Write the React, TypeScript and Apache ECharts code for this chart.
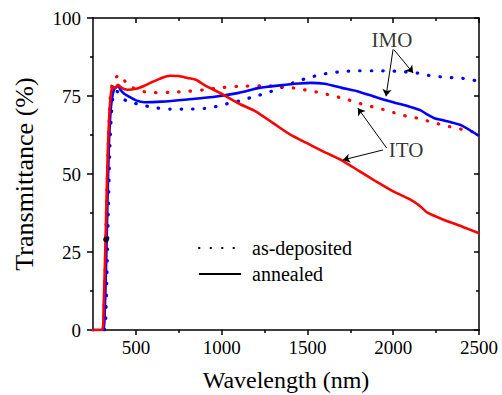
import React, { useEffect, useRef } from "react";
import * as echarts from "echarts";

// ITO annealed (red solid)
const itoAnnX = [250, 305, 312, 320, 328, 336, 345, 355, 365, 380, 395, 420, 450, 500, 550, 600, 650, 700, 750, 800, 850, 900, 1000, 1100, 1200, 1300, 1400, 1500, 1600, 1700, 1800, 1900, 2000, 2100, 2150, 2200, 2300, 2400, 2500];
const itoAnnY = [0, 0, 8, 22, 40, 57, 69, 76, 78, 77.6, 78.6, 77.5, 77, 77.3, 78.3, 79.6, 80.8, 81.5, 81.4, 80.8, 80.2, 78.5, 75.7, 72.6, 70, 66.3, 62.6, 59.8, 57, 54.4, 51, 47.6, 44.4, 41.8, 40, 37.6, 35.2, 33.2, 31];

// IMO annealed (blue solid)
const imoAnnX = [250, 310, 318, 326, 334, 342, 350, 360, 372, 385, 398, 410, 430, 460, 500, 550, 650, 800, 950, 1100, 1220, 1340, 1450, 1520, 1600, 1700, 1800, 1900, 2000, 2100, 2160, 2200, 2240, 2300, 2400, 2500];
const imoAnnY = [0, 0, 5, 20, 40, 58, 68, 74, 77, 77.8, 78.2, 77, 75.8, 74.8, 73.6, 73, 73.2, 73.9, 74.7, 76, 77.6, 78.4, 79, 79.2, 78.9, 77.6, 76.4, 74.6, 73, 71.5, 70.4, 69, 67.9, 67.1, 65.5, 62.2];

// ITO as-deposited (red dotted)
const itoDepX = [250, 305, 315, 323, 331, 340, 350, 362, 375, 405, 440, 470, 525, 600, 700, 800, 900, 1000, 1100, 1240, 1300, 1370, 1440, 1500, 1570, 1640, 1710, 1780, 1840, 1900, 1960, 2020, 2080, 2150, 2220, 2290, 2350, 2420, 2500];
const itoDepY = [0, 0, 8, 25, 45, 62, 74, 79, 80.5, 81.8, 79.5, 78, 76.6, 76.1, 76.2, 76.5, 77, 77.7, 78.1, 78.3, 78.2, 77.9, 77.4, 76.8, 76.1, 75.2, 74.2, 73.1, 72, 71.3, 70.4, 69.4, 68.5, 67.8, 66.7, 65.7, 64.9, 64.1, 63];

// IMO as-deposited (blue dotted)
const imoDepX = [250, 315, 325, 333, 340, 348, 356, 365, 378, 390, 410, 450, 530, 600, 700, 800, 900, 985, 1050, 1100, 1170, 1240, 1310, 1380, 1440, 1510, 1580, 1650, 1710, 1800, 1900, 2000, 2060, 2100, 2160, 2225, 2290, 2360, 2430, 2500];
const imoDepY = [0, 0, 5, 22, 40, 58, 68, 74, 76.5, 76.5, 74.8, 73.3, 72.2, 71.3, 70.8, 70.8, 71, 71.8, 72.8, 73.4, 74.5, 75.6, 76.9, 78.4, 79.7, 80.9, 81.9, 82.5, 82.9, 83.1, 83.1, 83, 82.8, 82.5, 82.2, 81.4, 81.1, 80.8, 80.5, 79.7];

// black marker on the absorption edge
const edgeMarker = [[326, 29]];

// axis ticks / labels
const xMajor = [500, 1000, 1500, 2000, 2500];
const xMinor = [750, 1250, 1750, 2250];
const xMin = 250;
const xMax = 2500;

// annotations (data coordinates)
const annotationTexts = [
  { name: "IMO", at: [1993, 92.8] },
  { name: "ITO", at: [2075, 57.7] },
];
const annotationArrows = [
  [[1999, 89.9], [1958, 74.9]],
  [[2003, 89.9], [2116, 82.4]],
  [[1962, 58.3], [1794, 71.1]],
  [[1940, 57.7], [1707, 54.5]],
];

const legendNames = ["as-deposited", "annealed"];

const zip = (xs: number[], ys: number[]) => xs.map((x, i) => [x, ys[i]]);

const FONT = "Liberation Serif";
const DOT = [0.5, 11];

export default function App() {
  const ref = useRef<HTMLDivElement>(null);
  useEffect(() => {
    if (!ref.current) return;
    const chart = echarts.init(ref.current, null, { renderer: "svg" });
    const axisLine = { show: true, lineStyle: { color: "#000", width: 1.5 } };
    const baseX = { type: "value", min: xMin, max: xMax, splitLine: { show: false } };
    const baseY = { type: "value", min: 0, max: 100, interval: 25, splitLine: { show: false } };
    chart.setOption({
      animation: false,
      backgroundColor: "#fff",
      textStyle: { fontFamily: FONT },
      grid: { left: 93, right: 23, top: 18, bottom: 65, containLabel: false, outerBoundsMode: "none" },
      xAxis: [
        {
          ...baseX,
          position: "bottom",
          axisLine,
          axisTick: { show: true, inside: false, length: 5, customValues: xMajor, lineStyle: { color: "#000", width: 1.5 } },
          axisLabel: {
            show: true,
            customValues: xMajor,
            margin: 8,
            color: "#000",
            fontSize: 19,
            fontFamily: FONT,
            formatter: (v: number) => String(v),
          },
          name: "Wavelength (nm)",
          nameLocation: "middle",
          nameGap: 38,
          nameTextStyle: { color: "#000", fontSize: 24, fontFamily: FONT },
        },
        {
          ...baseX,
          position: "bottom",
          axisLine: { show: false },
          axisTick: { show: true, inside: false, length: 3, customValues: xMinor, lineStyle: { color: "#000", width: 1.5 } },
          axisLabel: { show: false },
        },
        {
          ...baseX,
          position: "top",
          axisLine,
          axisTick: { show: true, inside: true, length: 5, customValues: xMajor, lineStyle: { color: "#000", width: 1.5 } },
          axisLabel: { show: false },
        },
        {
          ...baseX,
          position: "top",
          axisLine: { show: false },
          axisTick: { show: true, inside: true, length: 3, customValues: xMinor, lineStyle: { color: "#000", width: 1.5 } },
          axisLabel: { show: false },
        },
      ],
      yAxis: [
        {
          ...baseY,
          position: "left",
          axisLine,
          axisTick: { show: true, inside: false, length: 6, lineStyle: { color: "#000", width: 1.5 } },
          minorTick: { show: true, splitNumber: 2, length: 3, lineStyle: { color: "#000", width: 1.5 } },
          axisLabel: { show: true, margin: 12, color: "#000", fontSize: 19, fontFamily: FONT },
          name: "Transmittance (%)",
          nameLocation: "middle",
          nameGap: 56,
          nameTextStyle: { color: "#000", fontSize: 26, fontFamily: FONT },
        },
        {
          ...baseY,
          position: "right",
          axisLine,
          axisTick: { show: true, inside: true, length: 5, lineStyle: { color: "#000", width: 1.5 } },
          minorTick: { show: true, splitNumber: 2, length: 3, lineStyle: { color: "#000", width: 1.5 } },
          axisLabel: { show: false },
        },
      ],
      legend: {
        data: legendNames,
        orient: "vertical",
        left: 193,
        top: 233,
        itemWidth: 42,
        itemHeight: 14,
        itemGap: 6,
        itemStyle: { opacity: 0 },
        textStyle: { color: "#000", fontSize: 20, fontFamily: FONT, lineHeight: 20, padding: [0, 0, 0, 6] },
      },
      series: [
        {
          name: "IMO as-deposited",
          type: "line",
          data: zip(imoDepX, imoDepY),
          showSymbol: false,
          symbol: "none",
          smooth: 0.2,
          lineStyle: { color: "#0000ff", width: 3.2, type: DOT, cap: "round" },
          z: 2,
        },
        {
          name: "ITO as-deposited",
          type: "line",
          data: zip(itoDepX, itoDepY),
          showSymbol: false,
          symbol: "none",
          smooth: 0.2,
          lineStyle: { color: "#ff0000", width: 3.2, type: DOT, cap: "round" },
          z: 2,
        },
        {
          name: "IMO annealed",
          type: "line",
          data: zip(imoAnnX, imoAnnY),
          showSymbol: false,
          symbol: "none",
          smooth: 0.2,
          lineStyle: { color: "#0000ff", width: 2.6 },
          z: 3,
        },
        {
          name: "ITO annealed",
          type: "line",
          data: zip(itoAnnX, itoAnnY),
          showSymbol: false,
          symbol: "none",
          smooth: 0.2,
          lineStyle: { color: "#ff0000", width: 2.6 },
          z: 4,
        },
        {
          name: "edge",
          type: "scatter",
          data: edgeMarker,
          symbol: "circle",
          symbolSize: 6,
          itemStyle: { color: "#000" },
          z: 5,
        },
        {
          name: legendNames[0],
          type: "line",
          data: [],
          symbol: "none",
          lineStyle: { color: "#000", width: 2.6, type: DOT, cap: "round" },
          itemStyle: { color: "transparent", borderWidth: 0 },
        },
        {
          name: legendNames[1],
          type: "line",
          data: [],
          symbol: "none",
          lineStyle: { color: "#000", width: 2.6 },
          itemStyle: { color: "transparent", borderWidth: 0 },
        },
        {
          name: "arrows",
          type: "lines",
          coordinateSystem: "cartesian2d",
          data: annotationArrows.map((c) => ({ coords: c })),
          symbol: ["none", "arrow"],
          symbolSize: [0, 7],
          lineStyle: { color: "#000", width: 1, opacity: 1 },
          z: 6,
        },
        {
          name: "labels",
          type: "scatter",
          data: annotationTexts.map((a) => ({ value: a.at, name: a.name })),
          symbolSize: 1,
          itemStyle: { color: "transparent" },
          label: {
            show: true,
            position: "inside",
            formatter: (p: any) => p.name,
            color: "#000",
            fontSize: 21,
            fontFamily: FONT,
          },
          z: 6,
        },
      ],
    });
    return () => chart.dispose();
  }, []);
  return <div ref={ref} style={{ position: "fixed", left: 0, top: 0, width: 502, height: 395 }} />;
}
